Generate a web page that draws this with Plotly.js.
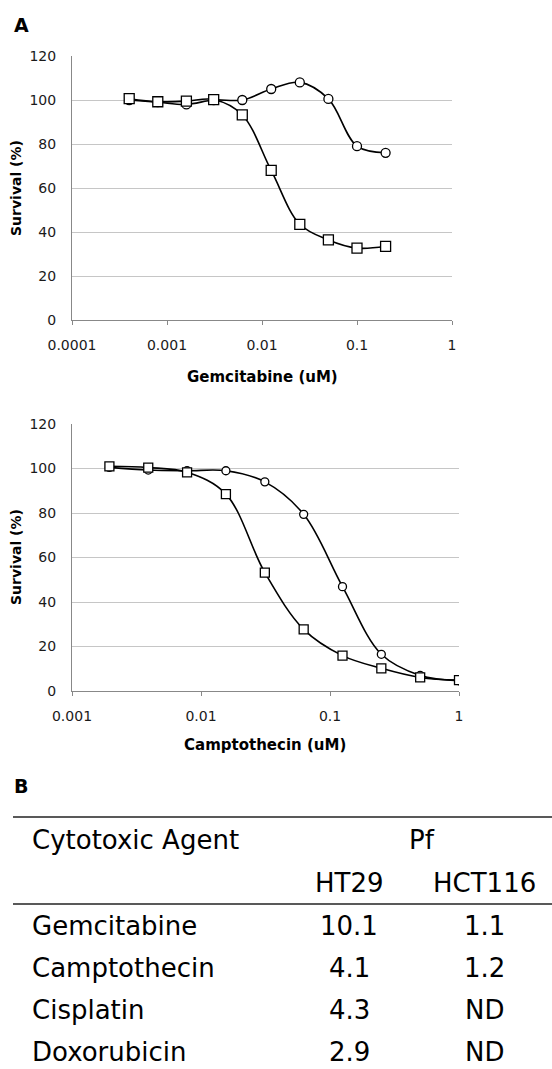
<!DOCTYPE html>
<html><head><meta charset="utf-8">
<script src="https://cdn.plot.ly/plotly-3.0.1.min.js"></script>
<style>html,body{margin:0;padding:0;background:#fff}</style>
</head><body><div id="chart" style="width:552px;height:1069px"></div>
<script>
// ---- data ----
const gemDose = [0.0004, 0.0008, 0.0016, 0.0031, 0.0062, 0.0125, 0.025, 0.05, 0.1, 0.2];
const gemCircle = [100, 99, 98, 100, 100, 105, 108, 100.5, 79, 76];
const gemSquare = [100.6, 99.2, 99.5, 100.2, 93.2, 68, 43.5, 36.4, 32.7, 33.5];
const camDose = [0.00195, 0.0039, 0.0078, 0.0156, 0.03125, 0.0625, 0.125, 0.25, 0.5, 1];
const camCircle = [100.5, 99.3, 99, 99, 94, 79.4, 46.9, 16.5, 7, 4.6];
const camSquare = [101, 100.4, 98.3, 88.5, 53.2, 27.7, 15.9, 10.2, 6.1, 4.9];
const gemTicks = [0.0001, 0.001, 0.01, 0.1, 1];
const gemTickText = ["0.0001", "0.001", "0.01", "0.1", "1"];
const camTicks = [0.001, 0.01, 0.1, 1];
const camTickText = ["0.001", "0.01", "0.1", "1"];
const yTicks = [0, 20, 40, 60, 80, 100, 120];
const agents = ["Gemcitabine", "Camptothecin", "Cisplatin", "Doxorubicin"];
const pfHT29 = ["10.1", "4.1", "4.3", "2.9"];
const pfHCT116 = ["1.1", "1.2", "ND", "ND"];
const headerCols = ["HT29", "HCT116"];

// ---- geometry helpers ----
const W = 552, H = 1069;
const px = v => v / W;
const py = v => 1 - v / H;
const FONT = "DejaVu Sans, Verdana, sans-serif";

function lineTrace(x, y, xa, ya, symbol, size) {
  return {
    x: x, y: y, xaxis: xa, yaxis: ya, type: 'scatter', mode: 'lines+markers',
    line: {shape: 'spline', smoothing: 1, color: '#000', width: 1.6},
    marker: {symbol: symbol, size: size, color: '#fff', line: {color: '#000', width: 1.3}},
    showlegend: false, hoverinfo: 'x+y'
  };
}

const data = [
  lineTrace(gemDose, gemCircle, 'x', 'y', 'circle', 9),
  lineTrace(gemDose, gemSquare, 'x', 'y', 'square', 10),
  lineTrace(camDose, camCircle, 'x2', 'y2', 'circle', 8),
  lineTrace(camDose, camSquare, 'x2', 'y2', 'square', 9)
];

const tickFont = {family: FONT, size: 14, color: '#1a1a1a'};
function xAxis(dom, range, tv, tt, anchor) {
  return {type: 'log', domain: dom, range: range, tickvals: tv, ticktext: tt,
    showgrid: false, showline: true, linecolor: '#888', linewidth: 1, zeroline: false,
    ticks: 'outside', ticklen: 4, tickcolor: '#888', tickwidth: 1,
    tickfont: tickFont, ticklabelstandoff: 8, anchor: anchor, fixedrange: true};
}
function yAxis(dom, anchor) {
  return {domain: dom, range: [0, 120], tickvals: yTicks, showgrid: true, gridcolor: '#c6c6c6',
    gridwidth: 1, showline: true, linecolor: '#888', linewidth: 1, zeroline: false, ticks: '',
    tickfont: tickFont, ticklabelstandoff: 12, anchor: anchor, fixedrange: true};
}

const annotations = [];
function ann(text, x, y, opts) {
  annotations.push(Object.assign({text: text, x: px(x), y: py(y), xref: 'paper', yref: 'paper',
    showarrow: false, xanchor: 'center', yanchor: 'middle',
    font: {family: FONT, size: 15, color: '#000'}}, opts || {}));
}
// panel letters
ann('<b>A</b>', 12, 25, {xanchor: 'left', font: {family: FONT, size: 19, color: '#000'}});
ann('<b>B</b>', 12, 786, {xanchor: 'left', font: {family: FONT, size: 19, color: '#000'}});
// axis titles
ann('<b>Gemcitabine (uM)</b>', 262, 377);
ann('<b>Survival (%)</b>', 16, 188, {textangle: -90, font: {family: FONT, size: 14, color: '#000'}});
ann('<b>Camptothecin (uM)</b>', 265, 745);
ann('<b>Survival (%)</b>', 16, 557, {textangle: -90, font: {family: FONT, size: 14, color: '#000'}});

// table
const tFont = {family: FONT, size: 26, color: '#000'};
const colX = [349, 484];
ann('Cytotoxic Agent', 30, 840, {xanchor: 'left', font: tFont});
ann('Pf', 422, 840, {font: tFont});
headerCols.forEach((h, i) => ann(h, colX[i], 883, {font: tFont}));
const rowY = [926, 968, 1010, 1052];
agents.forEach((a, i) => {
  ann(a, 30, rowY[i], {xanchor: 'left', font: tFont});
  ann(pfHT29[i], colX[0], rowY[i], {font: tFont});
  ann(pfHCT116[i], colX[1], rowY[i], {font: tFont});
});

const shapes = [
  {type: 'line', xref: 'paper', yref: 'paper', x0: px(13), x1: 1, y0: py(817), y1: py(817), line: {color: '#222', width: 1.5}},
  {type: 'line', xref: 'paper', yref: 'paper', x0: px(13), x1: 1, y0: py(904), y1: py(904), line: {color: '#222', width: 1.5}}
];

const layout = {
  width: W, height: H, margin: {l: 0, r: 0, t: 0, b: 0},
  paper_bgcolor: '#fff', plot_bgcolor: '#fff', showlegend: false,
  xaxis: xAxis([px(72), px(452)], [-4, 0], gemTicks, gemTickText, 'y'),
  yaxis: yAxis([py(320), py(56)], 'x'),
  xaxis2: xAxis([px(72), px(459)], [-3, 0], camTicks, camTickText, 'y2'),
  yaxis2: yAxis([py(691), py(424)], 'x2'),
  annotations: annotations, shapes: shapes
};

Plotly.newPlot('chart', data, layout, {displayModeBar: false, staticPlot: true});
</script></body></html>
